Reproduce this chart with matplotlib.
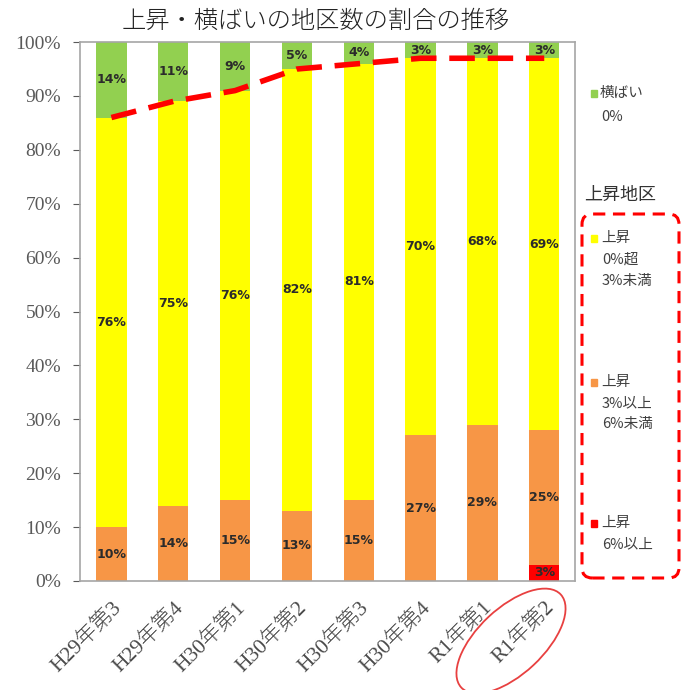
import matplotlib
matplotlib.use("Agg")
import matplotlib.pyplot as plt
from matplotlib.patches import Ellipse, FancyBboxPatch, Rectangle
import numpy as np

plt.rcParams['font.family'] = ['Liberation Serif', 'Noto Sans CJK JP']

# data (percent of districts)
periods = ['H29年第3', 'H29年第4', 'H30年第1', 'H30年第2',
           'H30年第3', 'H30年第4', 'R1年第1', 'R1年第2']
up_6plus = [0, 0, 0, 0, 0, 0, 0, 3]
up_3to6 = [10, 14, 15, 13, 15, 27, 29, 25]
up_0to3 = [76, 75, 76, 82, 81, 70, 68, 69]
flat = [14, 11, 9, 5, 4, 3, 3, 3]

c_red = '#FF0000'
c_orange = '#F79646'
c_yellow = '#FFFF00'
c_green = '#92D050'

fig = plt.figure(figsize=(6.88, 6.90), dpi=100)
ax = fig.add_axes([0.117, 0.158, 0.719, 0.781])

x = np.arange(len(periods))
w = 0.49
b1 = np.array(up_6plus, dtype=float)
b2 = b1 + np.array(up_3to6)
b3 = b2 + np.array(up_0to3)

ax.bar(x, up_6plus, w, color=c_red, zorder=2)
ax.bar(x, up_3to6, w, bottom=b1, color=c_orange, zorder=2)
ax.bar(x, up_0to3, w, bottom=b2, color=c_yellow, zorder=2)
ax.bar(x, flat, w, bottom=b3, color=c_green, zorder=2)

# labels inside segments
lab_font = dict(ha='center', va='center', fontsize=9, color='#2b2b2b',
                family=['DejaVu Sans'], fontweight='semibold', zorder=5)
for i in range(len(periods)):
    if up_6plus[i] > 0:
        ax.text(x[i], b1[i] / 2, f'{up_6plus[i]}%', **lab_font)
    ax.text(x[i], b1[i] + up_3to6[i] / 2, f'{up_3to6[i]}%', **lab_font)
    ax.text(x[i], b2[i] + up_0to3[i] / 2, f'{up_0to3[i]}%', **lab_font)
    ax.text(x[i], b3[i] + flat[i] / 2, f'{flat[i]}%', **lab_font)

# red dashed trend line on top of rising share
ax.plot(x, b3, color=c_red, lw=4, ls=(0, (4.6, 2.3)), zorder=4)

ax.set_xlim(-0.5, len(periods) - 0.5)
ax.set_ylim(0, 100)
ax.set_yticks(np.arange(0, 101, 10))
ax.set_yticklabels([f'{v}%' for v in range(0, 101, 10)])
ax.tick_params(axis='y', labelsize=14, colors='#595959', length=5, width=0.8,
               pad=9)
ax.tick_params(axis='x', length=0, labelsize=15.5, labelcolor='#4a4a4a', pad=12)
ax.set_xticks(x)
ax.set_xticklabels(periods, rotation=45, ha='right', rotation_mode='anchor')
for lbl in ax.get_xticklabels():
    lbl.set_fontweight('light')
for s in ax.spines.values():
    s.set_color('#A6A6A6')
    s.set_linewidth(1.2)

fig.text(316 / 688, 1 - 22 / 690, '上昇・横ばいの地区数の割合の推移',
         ha='center', va='center', fontsize=17.5, color='#222222',
         fontweight='light')

# legend (manual)
def px(xp, yp):
    return xp / 688, 1 - yp / 690

def swatch(xp, yp, col):
    sx, sy = px(xp, yp)
    fig.patches.append(Rectangle((sx - 0.005, sy - 0.006), 0.010, 0.010,
                                 transform=fig.transFigure, color=col))

leg_font = dict(fontsize=10.5, color='#404040', va='center', ha='left',
                family=['Noto Sans CJK JP'])
swatch(594, 93, c_green)
fig.text(*px(600, 93), '横ばい', **leg_font)
fig.text(*px(601, 117), '0%', **leg_font)

fig.text(*px(584, 195), '上昇地区', fontsize=13, color='#333333', va='center',
         ha='left', family=['Noto Sans CJK JP'])
bx0, by0 = px(582, 578)
bx1, by1 = px(679, 214)
fig.patches.append(FancyBboxPatch((bx0, by0), bx1 - bx0, by1 - by0,
                                  boxstyle='round,pad=0,rounding_size=0.015',
                                  transform=fig.transFigure, fill=False,
                                  edgecolor=c_red, lw=2.2, ls=(0, (4, 2.5))))

swatch(594, 238, c_yellow)
fig.text(*px(601, 238), '上昇', **leg_font)
fig.text(*px(602, 260), '0%超', **leg_font)
fig.text(*px(602, 281), '3%未満', **leg_font)
swatch(594, 382, c_orange)
fig.text(*px(601, 382), '上昇', **leg_font)
fig.text(*px(602, 403), '3%以上', **leg_font)
fig.text(*px(602, 424), '6%未満', **leg_font)
swatch(594, 523, c_red)
fig.text(*px(601, 523), '上昇', **leg_font)
fig.text(*px(602, 544), '6%以上', **leg_font)

# circle around the latest period label
ex, ey = px(511, 641)
fig.patches.append(Ellipse((ex, ey), 136 / 688, 66 / 690, angle=43,
                           transform=fig.transFigure, fill=False,
                           edgecolor='#E84040', lw=1.3))

fig.savefig('out.png', dpi=100)
